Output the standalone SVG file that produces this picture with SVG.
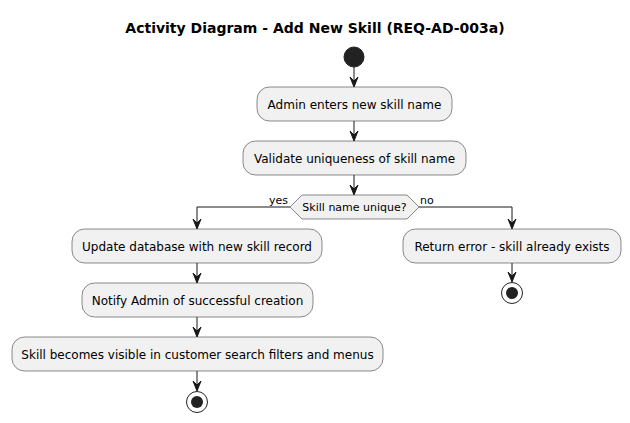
<svg xmlns="http://www.w3.org/2000/svg" width="630" height="423" viewBox="0 0 630 423">
<defs>
<style>
.box{fill:#F1F1F1;stroke:#181818;stroke-width:0.5}
.t{font-family:"DejaVu Sans",sans-serif;font-size:12px;fill:#000;text-anchor:middle}
.s{font-family:"DejaVu Sans",sans-serif;font-size:11px;fill:#000}
.ln{fill:none;stroke:#181818;stroke-width:1}
.ah{fill:#181818;stroke:#181818;stroke-width:1}
</style>
</defs>
<rect width="630" height="423" fill="#FFFFFF"/>
<text x="315" y="33" font-family="DejaVu Sans,sans-serif" font-size="14" font-weight="bold" text-anchor="middle">Activity Diagram - Add New Skill (REQ-AD-003a)</text>

<g id="start"><circle cx="354" cy="57" r="10" fill="#222222" stroke="#222222"/></g>
<g id="n1"><rect class="box" x="257" y="87" width="195" height="34" rx="12.5"/><text class="t" x="354.5" y="108.5">Admin enters new skill name</text></g>
<g id="n2"><rect class="box" x="243" y="141" width="223" height="34" rx="12.5"/><text class="t" x="354.5" y="162.5">Validate uniqueness of skill name</text></g>
<g id="d1"><polygon class="box" points="290,207 302,195 407,195 419,207 407,219 302,219"/><text class="s" x="354.5" y="211" text-anchor="middle">Skill name unique?</text></g>
<g id="n3"><rect class="box" x="72" y="229" width="250" height="34" rx="12.5"/><text class="t" x="197" y="250.5">Update database with new skill record</text></g>
<g id="n4"><rect class="box" x="403" y="229" width="218" height="34" rx="12.5"/><text class="t" x="512" y="250.5">Return error - skill already exists</text></g>
<g id="end2"><circle cx="512" cy="293" r="10.5" fill="none" stroke="#222222" stroke-width="1"/><circle cx="512" cy="293" r="6" fill="#222222"/></g>
<g id="n5"><rect class="box" x="82" y="283" width="231" height="34" rx="12.5"/><text class="t" x="197.5" y="304.5">Notify Admin of successful creation</text></g>
<g id="n6"><rect class="box" x="12" y="337" width="371" height="34" rx="12.5"/><text class="t" x="197.5" y="358.5">Skill becomes visible in customer search filters and menus</text></g>
<g id="end1"><circle cx="197" cy="402" r="10.5" fill="none" stroke="#222222" stroke-width="1"/><circle cx="197" cy="402" r="6" fill="#222222"/></g>

<g id="connectors">
<line class="ln" x1="354" y1="67" x2="354" y2="86"/>
<polygon class="ah" points="350,77 354,87 358,77 354,81"/>
<line class="ln" x1="354" y1="121" x2="354" y2="140"/>
<polygon class="ah" points="350,131 354,141 358,131 354,135"/>
<line class="ln" x1="354" y1="175" x2="354" y2="194"/>
<polygon class="ah" points="350,185 354,195 358,185 354,189"/>
<polyline class="ln" points="290,207 197,207 197,228"/>
<polygon class="ah" points="193,219 197,229 201,219 197,223"/>
<text class="s" x="288" y="204" text-anchor="end">yes</text>
<polyline class="ln" points="419,207 512,207 512,228"/>
<polygon class="ah" points="508,219 512,229 516,219 512,223"/>
<text class="s" x="420" y="204">no</text>
<line class="ln" x1="512" y1="263" x2="512" y2="281"/>
<polygon class="ah" points="508,272 512,282 516,272 512,276"/>
<line class="ln" x1="197" y1="263" x2="197" y2="282"/>
<polygon class="ah" points="193,273 197,283 201,273 197,277"/>
<line class="ln" x1="197" y1="317" x2="197" y2="336"/>
<polygon class="ah" points="193,327 197,337 201,327 197,331"/>
<line class="ln" x1="197" y1="371" x2="197" y2="390"/>
<polygon class="ah" points="193,381 197,391 201,381 197,385"/>
</g>
</svg>
